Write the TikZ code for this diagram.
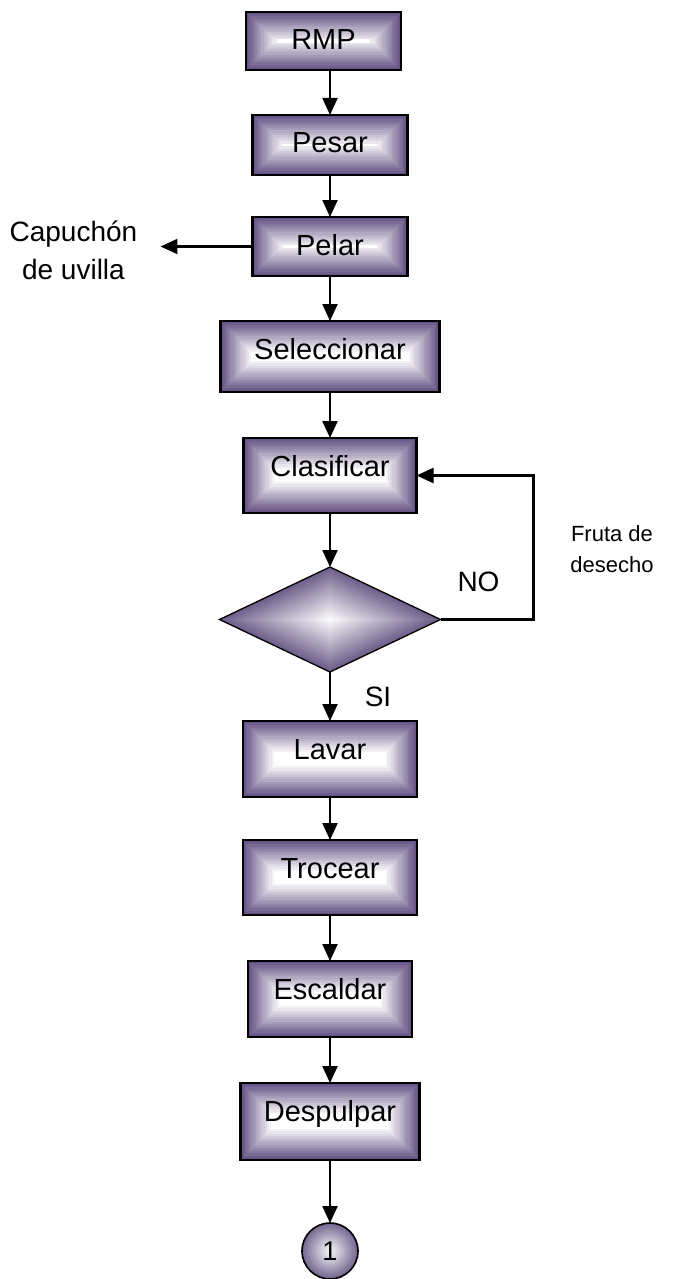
\documentclass[tikz,border=0pt]{standalone}
\usepackage{fontspec}
\setmainfont{Liberation Sans}
\usetikzlibrary{arrows.meta,positioning,shapes.geometric,calc}
\definecolor{boxpurple}{RGB}{100,82,132}
\definecolor{diapurple}{RGB}{112,96,140}
\definecolor{circpurple}{RGB}{118,106,146}
\begin{document}
\begin{tikzpicture}[node distance=45pt,>={Triangle[length=17pt,width=15pt]},
box/.style 2 args={draw,line width=2.2pt,inner sep=0pt,outer sep=0pt,minimum width=#1pt,minimum height=#2pt,
 font=\fontsize{29}{34}\selectfont,text height=20pt,text depth=\fpeval{#2-56}pt,
 path picture={\foreach \k in {0,...,14}{\pgfmathtruncatemacro\pct{\k*100/14}
  \fill[white!\pct!boxpurple]([shift={(\k*2.2pt,\k*2.2pt)}]path picture bounding box.south west) rectangle ([shift={(-\k*2.2pt,-\k*2.2pt)}]path picture bounding box.north east);}}},
decision/.style={diamond,draw,line width=1.3pt,inner sep=0pt,outer sep=0pt,minimum width=221pt,minimum height=105pt,
 path picture={\foreach \k in {0,...,20}{\pgfmathsetmacro\f{1-\k/20}\pgfmathtruncatemacro\pct{\k*5}
  \fill[white!\pct!diapurple]($(path picture bounding box.center)!\f!(path picture bounding box.east)$)--($(path picture bounding box.center)!\f!(path picture bounding box.north)$)--($(path picture bounding box.center)!\f!(path picture bounding box.west)$)--($(path picture bounding box.center)!\f!(path picture bounding box.south)$)--cycle;}}},
endcirc/.style={circle,draw,line width=1.6pt,inner sep=0pt,outer sep=0pt,minimum size=56pt,font=\fontsize{27}{30}\selectfont,
 path picture={\foreach \k in {0,...,14}{\pgfmathsetmacro\r{28*(1-\k/14)}\pgfmathtruncatemacro\pct{\k*100/14}
  \fill[white!\pct!circpurple](path picture bounding box.center) circle[radius=\r pt];}}},
arr/.style={->,line width=2.2pt},
lbl/.style={font=\fontsize{28}{34}\selectfont,inner sep=0pt}]
\useasboundingbox (-330pt,41pt) rectangle (347pt,-1238pt);
\node[box={155}{58}](rmp) at (-6.5pt,0){RMP};
\node[box={155}{60},below=45pt of rmp,xshift=6.5pt](pesar){Pesar};
\node[box={155}{59},below=42pt of pesar](pelar){Pelar};
\node[box={219}{71},below=45pt of pelar](sel){Seleccionar};
\node[box={173}{75},below=46pt of sel](clas){Clasificar};
\node[decision,below=54pt of clas](dec){};
\node[box={174}{76},below=49pt of dec](lavar){Lavar};
\node[box={174}{75},below=43pt of lavar](troc){Trocear};
\node[box={164}{76},below=46pt of troc](esc){Escaldar};
\node[box={179}{77},below=46pt of esc](desp){Despulpar};
\node[endcirc,below=63pt of desp](uno){1};
\node[font=\fontsize{28}{38}\selectfont,align=center,inner sep=0pt,left=115pt of pelar,yshift=-4pt](cap){Capuchón\\de uvilla};
\coordinate[left=92pt of pelar](capend);
\node[font=\fontsize{22}{31}\selectfont,align=center,inner sep=0pt](fruta) at ([xshift=282pt,yshift=-74pt]clas.center){Fruta de\\desecho};
\node[lbl](no) at ([xshift=38pt,yshift=38pt]dec.east){NO};
\node[lbl](si) at ([xshift=48pt,yshift=-25pt]dec.south){SI};
\draw[arr](rmp.south -| pesar.north)--(pesar);
\draw[arr](pesar)--(pelar);\draw[arr](pelar)--(sel);\draw[arr](sel)--(clas);
\draw[arr](clas)--(dec);\draw[arr](dec)--(lavar);\draw[arr](lavar)--(troc);
\draw[arr](troc)--(esc);\draw[arr](esc)--(desp);\draw[arr](desp)--(uno);
\draw[arr](pelar)--(capend);
\draw[arr](dec.east)--++(93pt,0)|-(clas.east);
\end{tikzpicture}
\end{document}
